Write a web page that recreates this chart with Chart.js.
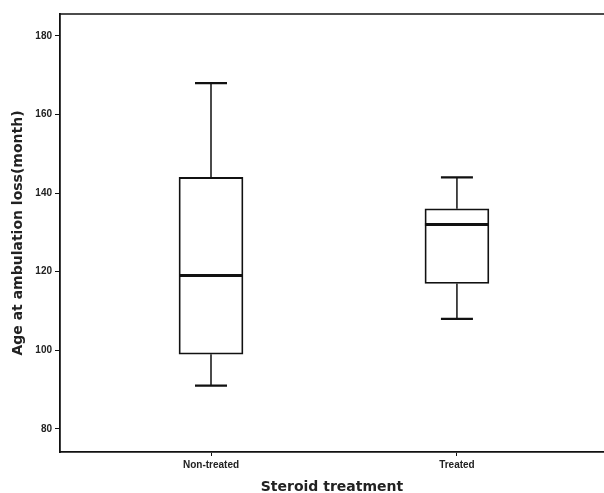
<!DOCTYPE html>
<html>
<head>
<meta charset="utf-8">
<script src="https://cdn.jsdelivr.net/npm/chart.js@4.4.0/dist/chart.umd.min.js"></script>
<style>
  html, body { margin: 0; padding: 0; background: #fff; }
  #wrap { width: 604px; height: 493px; }
</style>
</head>
<body>
<div id="wrap"><canvas id="boxChart"></canvas></div>
<script>
// box plot data (months)
const groups = ['Non-treated', 'Treated'];
const mins = [91, 108];
const q1s = [99, 117];
const medians = [119, 132];
const q3s = [144, 136];
const maxs = [168, 144];
const yTicks = [80, 100, 120, 140, 160, 180];

// whiskers + median drawn from the scales
const boxPlotPlugin = {
    id: 'boxPlotExtras',
    afterDatasetsDraw: function(chart) {
        const ctx = chart.ctx;
        const xs = chart.scales.x, ys = chart.scales.y;
        const boxW = 64, capW = 32;
        ctx.save();
        ctx.strokeStyle = '#111';
        groups.forEach((g, i) => {
            const cx = xs.getPixelForValue(i);
            // whiskers
            ctx.lineWidth = 1.5;
            ctx.beginPath();
            ctx.moveTo(cx, ys.getPixelForValue(q3s[i]));
            ctx.lineTo(cx, ys.getPixelForValue(maxs[i]));
            ctx.moveTo(cx, ys.getPixelForValue(q1s[i]));
            ctx.lineTo(cx, ys.getPixelForValue(mins[i]));
            ctx.stroke();
            // caps
            ctx.lineWidth = 2.2;
            ctx.beginPath();
            ctx.moveTo(cx - capW / 2, ys.getPixelForValue(maxs[i]));
            ctx.lineTo(cx + capW / 2, ys.getPixelForValue(maxs[i]));
            ctx.moveTo(cx - capW / 2, ys.getPixelForValue(mins[i]));
            ctx.lineTo(cx + capW / 2, ys.getPixelForValue(mins[i]));
            ctx.stroke();
            // median
            ctx.lineWidth = 3;
            ctx.beginPath();
            ctx.moveTo(cx - boxW / 2, ys.getPixelForValue(medians[i]));
            ctx.lineTo(cx + boxW / 2, ys.getPixelForValue(medians[i]));
            ctx.stroke();
        });
        // top frame line
        const a = chart.chartArea;
        ctx.lineWidth = 1.5;
        ctx.beginPath();
        ctx.moveTo(a.left, a.top);
        ctx.lineTo(a.right, a.top);
        ctx.stroke();
        ctx.restore();
    }
};

const ctx = document.getElementById('boxChart').getContext('2d');
new Chart(ctx, {
    type: 'bar',
    data: {
        datasets: [{
            data: groups.map((g, i) => ({ x: i, y: [q1s[i], q3s[i]] })),
            backgroundColor: '#fff',
            borderColor: '#111',
            borderWidth: 1.8,
            borderSkipped: false,
            barThickness: 64
        }]
    },
    options: {
        responsive: true, maintainAspectRatio: false, animation: false,
        layout: { padding: { top: 14, right: 0, left: 0, bottom: 0 } },
        plugins: { legend: { display: false }, tooltip: { enabled: false } },
        scales: {
            x: {
                type: 'linear', min: -0.614, max: 1.598, offset: false,
                afterBuildTicks: s => { s.ticks = groups.map((g, i) => ({ value: i })); },
                afterFit: s => { s.height = 41; },
                grid: { offset: false, drawOnChartArea: false, drawTicks: true, tickLength: 4, color: '#111' },
                border: { display: true, color: '#111', width: 1.8 },
                ticks: {
                    callback: v => groups[v] || '',
                    color: '#222', padding: 3, maxRotation: 0,
                    font: { family: 'Arial, "Liberation Sans", sans-serif', size: 10, weight: 'bold' }
                },
                title: {
                    display: true, text: 'Steroid treatment', color: '#222', padding: { top: 10, bottom: 0 },
                    font: { family: '"DejaVu Sans", sans-serif', size: 14, weight: 'bold', lineHeight: 0.8 }
                }
            },
            y: {
                min: 74.1, max: 185.6,
                afterBuildTicks: s => { s.ticks = yTicks.map(v => ({ value: v })); },
                afterFit: s => { s.width = 60; },
                grid: { drawOnChartArea: false, drawTicks: true, tickLength: 5, color: '#111' },
                border: { display: true, color: '#111', width: 1.8 },
                ticks: {
                    color: '#222', padding: 3,
                    font: { family: 'Arial, "Liberation Sans", sans-serif', size: 10, weight: 'bold' }
                },
                title: {
                    display: true, text: 'Age at ambulation loss(month)', color: '#222', padding: { top: 10, bottom: 0 },
                    font: { family: '"DejaVu Sans", sans-serif', size: 14, weight: 'bold' }
                }
            }
        }
    },
    plugins: [boxPlotPlugin]
});
</script>
</body>
</html>
